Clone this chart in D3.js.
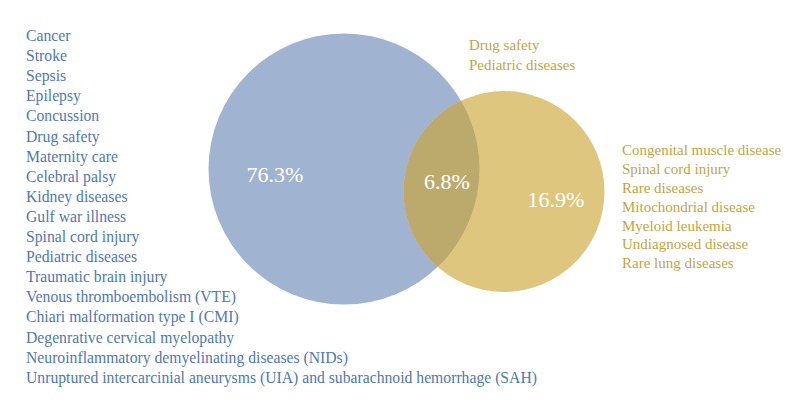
<!DOCTYPE html>
<html>
<head>
<meta charset="utf-8">
<script src="https://cdn.jsdelivr.net/npm/d3@7"></script>
<style>
  html, body { margin: 0; padding: 0; background: #fff; }
  svg { display: block; }
</style>
</head>
<body>
<svg id="chart" width="800" height="419"></svg>
<script>
// ---- data ----
const setNames = ["Set A", "Set B"];
const regionLabels = ["76.3%", "6.8%", "16.9%"];
const regionValues = [76.3, 6.8, 16.9];
const leftItems = [
  "Cancer", "Stroke", "Sepsis", "Epilepsy", "Concussion", "Drug safety",
  "Maternity care", "Celebral palsy", "Kidney diseases", "Gulf war illness",
  "Spinal cord injury", "Pediatric diseases", "Traumatic brain injury",
  "Venous thromboembolism (VTE)", "Chiari malformation type I (CMI)",
  "Degenrative cervical myelopathy",
  "Neuroinflammatory demyelinating diseases (NIDs)",
  "Unruptured intercarcinial aneurysms (UIA) and subarachnoid hemorrhage (SAH)"
];
const sharedItems = ["Drug safety", "Pediatric diseases"];
const rightItems = [
  "Congenital muscle disease", "Spinal cord injury", "Rare diseases",
  "Mitochondrial disease", "Myeloid leukemia", "Undiagnosed disease",
  "Rare lung diseases"
];

// ---- layout ----
const svg = d3.select("#chart");
const font = "'Liberation Serif', 'Times New Roman', serif";
const blue = "#a0b4d2", yellow = "#dfc67e", overlap = "#bcaa6d";
const blueText = "#4f78b6", yellowText = "#c6a340";

const circles = [
  { cx: 344, cy: 169, r: 135.5, fill: blue },
  { cx: 504, cy: 191.5, r: 100.5, fill: yellow }
];

svg.append("defs").append("clipPath").attr("id", "clipA")
  .append("circle")
  .attr("cx", circles[0].cx).attr("cy", circles[0].cy).attr("r", circles[0].r);

svg.selectAll("circle.set").data(circles).join("circle")
  .attr("class", "set")
  .attr("cx", d => d.cx).attr("cy", d => d.cy).attr("r", d => d.r)
  .attr("fill", d => d.fill);

svg.append("circle")
  .attr("cx", circles[1].cx).attr("cy", circles[1].cy).attr("r", circles[1].r)
  .attr("fill", overlap)
  .attr("clip-path", "url(#clipA)");

// region percentage labels
const regionPos = [
  { x: 275, y: 182 },
  { x: 447, y: 189 },
  { x: 556, y: 207 }
];
svg.selectAll("text.pct").data(regionLabels).join("text")
  .attr("class", "pct")
  .attr("x", (d, i) => regionPos[i].x)
  .attr("y", (d, i) => regionPos[i].y)
  .attr("text-anchor", "middle")
  .attr("font-family", font)
  .attr("font-size", 22)
  .attr("fill", "#fff")
  .text(d => d);

// lists
function list(items, x, y0, step, color, size) {
  const y = d3.scalePoint().domain(d3.range(items.length))
    .range([y0, y0 + step * (items.length - 1)]);
  svg.append("g").selectAll("text").data(items).join("text")
    .attr("x", x)
    .attr("y", (d, i) => y(i))
    .attr("font-family", font)
    .attr("font-size", size)
    .attr("fill", color)
    .text(d => d);
}
list(leftItems, 26, 41, 20.1, blueText, 15.7);
list(sharedItems, 469, 50, 19.5, yellowText, 15);
list(rightItems, 622, 155.3, 18.8, yellowText, 15);
</script>
</body>
</html>
